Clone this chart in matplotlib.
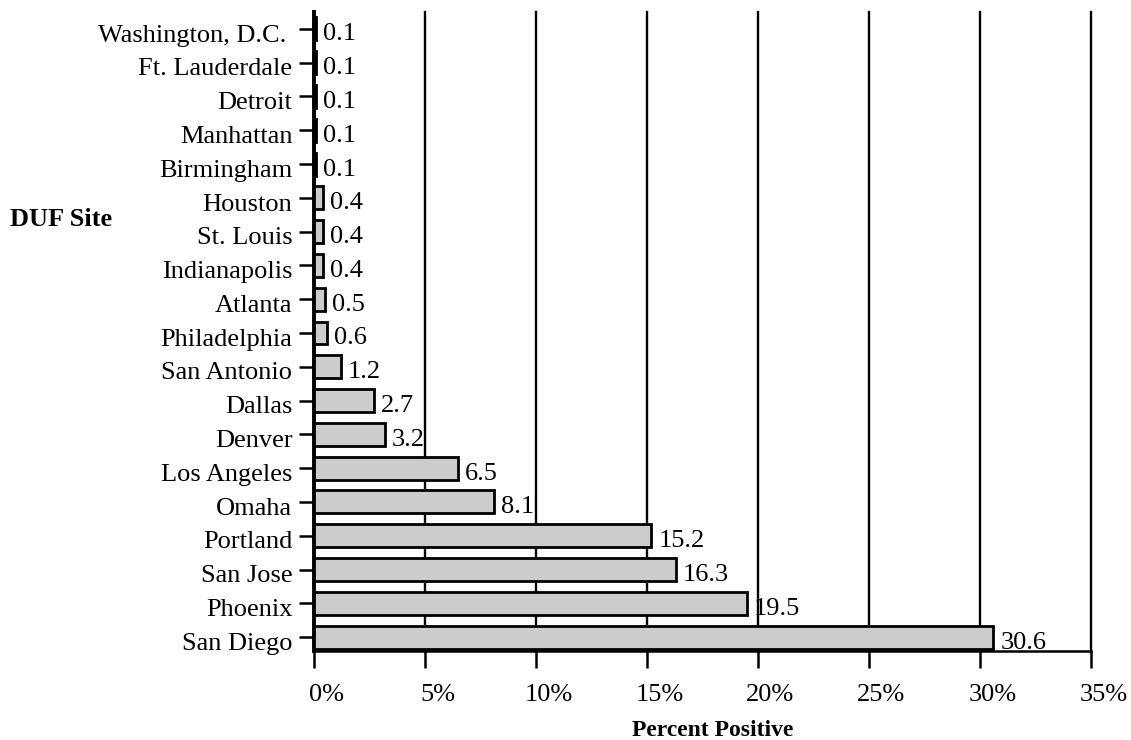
import matplotlib
matplotlib.use("Agg")
import matplotlib.pyplot as plt
import matplotlib.transforms as mtransforms

plt.rcParams['font.family'] = ['Liberation Serif', 'DejaVu Serif']

# bottom to top
sites = ["San Diego", "Phoenix", "San Jose", "Portland", "Omaha", "Los Angeles",
         "Denver", "Dallas", "San Antonio", "Philadelphia", "Atlanta", "Indianapolis",
         "St. Louis", "Houston", "Birmingham", "Manhattan", "Detroit",
         "Ft. Lauderdale", "Washington, D.C. "]
pct = [30.6, 19.5, 16.3, 15.2, 8.1, 6.5, 3.2, 2.7, 1.2, 0.6, 0.5, 0.4,
       0.4, 0.4, 0.1, 0.1, 0.1, 0.1, 0.1]
xticks = [0, 5, 10, 15, 20, 25, 30, 35]

fig = plt.figure(figsize=(11.31, 7.4), dpi=100)
ax = fig.add_axes([0.2776, 0.1203, 0.687, 0.8635])

bh = 0.68
y = list(range(len(sites)))
ax.barh(y, pct, height=bh, color="#cccccc", edgecolor="black", linewidth=2.0, zorder=3)

for xv in xticks[1:]:
    ax.axvline(xv, color="black", linewidth=1.7, zorder=1, clip_on=False)

ax.set_xlim(0, 35)
ax.set_ylim(-0.41, 18.5)
ax.set_xticks(xticks)
ax.set_xticklabels([f"{v}%" for v in xticks], fontsize=19)
ax.set_yticks(y)
ax.set_yticklabels(sites, fontsize=19)
ax.tick_params(axis="x", length=12, width=1.8, pad=12)
ax.tick_params(axis="y", length=10.5, width=1.8, pad=5)

# y labels a bit below their ticks, x labels a bit right of theirs
yshift = mtransforms.ScaledTranslation(0, -3 / 72, fig.dpi_scale_trans)
for lab in ax.get_yticklabels():
    lab.set_transform(lab.get_transform() + yshift)
xshift = mtransforms.ScaledTranslation(9 / 72, 0, fig.dpi_scale_trans)
for lab in ax.get_xticklabels():
    lab.set_transform(lab.get_transform() + xshift)

for s in ["top", "right"]:
    ax.spines[s].set_visible(False)
ax.spines["left"].set_linewidth(2.8)
ax.spines["bottom"].set_linewidth(1.8)
ax.spines["left"].set_zorder(2)

tr = mtransforms.offset_copy(ax.transData, fig=fig, x=5, y=0, units="points")
for i, v in enumerate(pct):
    ax.text(v, i - bh / 2, f"{v}", transform=tr, fontsize=19, va="baseline",
            ha="left", zorder=5)

ax.set_xlabel("Percent Positive", fontsize=17, fontweight="bold")
ax.xaxis.label.set_va("center")
ax.xaxis.set_label_coords(0.513, -0.124)
fig.text(0.009, 0.703, "DUF Site", fontsize=19, fontweight="bold", va="center", ha="left")

fig.savefig("out.png", dpi=100)
